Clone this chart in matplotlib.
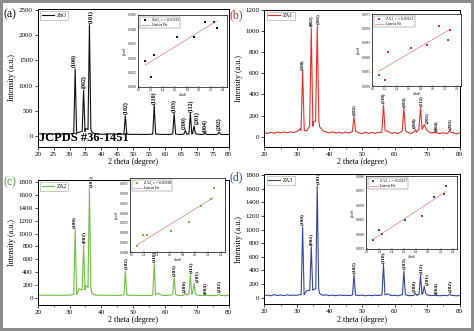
import numpy as np
import matplotlib
matplotlib.use("Agg")
import matplotlib.pyplot as plt
from matplotlib.patches import Rectangle

plt.rcParams['font.family'] = ['Liberation Serif', 'DejaVu Serif']
plt.rcParams['mathtext.fontset'] = 'stix'

W, H = 474, 331

# ---- XRD data ----
two_theta = [31.77, 34.42, 36.25, 47.54, 56.60, 62.86, 66.38, 67.96, 69.10, 72.56, 76.95]
hkl = ['(100)', '(002)', '(101)', '(102)', '(110)', '(103)', '(200)', '(112)', '(201)', '(004)', '(202)']
bg_tt = list(range(20, 81))

zno_bg = [46, 40, 44, 38, 41, 36, 39, 35, 38, 36, 42, 50, 60, 75, 90, 150, 120, 75, 45, 38,
          36, 35, 38, 45, 33, 32, 34, 38, 40, 33, 32, 34, 31, 32, 31, 33, 38, 42, 35, 31,
          32, 30, 36, 45, 33, 31, 38, 40, 45, 55, 38, 31, 32, 34, 30, 31, 30, 40, 32, 30, 31]
zno_peak = [1330, 910, 2210, 400, 610, 450, 110, 450, 200, 55, 80]
zno_foot = [55, 90, 130, 38, 40, 42, 38, 42, 48, 32, 35]

za1_bg = [38, 30, 42, 33, 45, 36, 44, 38, 46, 40, 48, 75, 70, 55, 100, 140, 150, 95, 55, 44,
          36, 45, 34, 42, 33, 44, 36, 48, 50, 38, 30, 42, 32, 40, 30, 41, 40, 55, 50, 32,
          40, 30, 45, 55, 42, 30, 40, 55, 70, 80, 60, 35, 42, 35, 30, 38, 28, 38, 38, 26, 35]
za1_peak = [620, 1030, 1050, 190, 300, 270, 65, 275, 115, 42, 60]
za1_foot = [60, 100, 150, 50, 55, 55, 42, 70, 80, 35, 38]

za2_bg = [38, 42, 36, 40, 37, 41, 35, 39, 36, 40, 38, 48, 50, 140, 120, 190, 160, 70, 42, 38,
          40, 36, 39, 35, 38, 34, 37, 45, 42, 35, 38, 34, 37, 33, 36, 34, 40, 45, 70, 36,
          34, 37, 42, 50, 38, 33, 40, 45, 55, 65, 45, 34, 36, 35, 33, 35, 32, 36, 34, 32, 33]
za2_peak = [1060, 820, 1700, 415, 530, 310, 70, 355, 225, 32, 55]
za2_foot = [50, 120, 160, 45, 45, 50, 40, 55, 65, 35, 36]

za3_bg = [30, 38, 28, 45, 32, 40, 30, 42, 33, 38, 35, 45, 45, 100, 110, 120, 130, 60, 35, 42,
          30, 38, 28, 40, 32, 36, 30, 40, 42, 30, 38, 28, 36, 30, 38, 32, 40, 42, 55, 30,
          36, 28, 40, 45, 32, 30, 35, 40, 50, 60, 42, 30, 34, 32, 28, 34, 30, 34, 32, 28, 30]
za3_peak = [1040, 750, 1640, 340, 490, 390, 64, 325, 165, 32, 52]
za3_foot = [45, 110, 130, 40, 42, 45, 35, 50, 60, 32, 34]

# ---- Williamson-Hall insets ----
four_sin = [1.096, 1.190, 1.247, 1.625, 1.905, 2.100, 2.250, 2.290]
wh_zno = [0.00292, 0.00236, 0.00310, 0.00374, 0.00374, 0.00425, 0.00424, 0.00405]
wh_za1 = [0.00539, 0.00520, 0.00617, 0.00633, 0.00643, 0.00708, 0.00661, 0.00694]
wh_za2 = [0.00432, 0.00485, 0.00485, 0.00509, 0.00554, 0.00634, 0.00673, 0.00728]
wh_za3 = [0.00580, 0.00614, 0.00603, 0.00648, 0.00663, 0.00727, 0.00740, 0.00766]
eps_txt = ['ZnO, ε = 0.00132', 'ZA1, ε = 0.00122', 'ZA2, ε = 0.00198', 'ZA3, ε = 0.00257']


def trace(bg, peak, foot, hw):
    pts = [(x, y) for x, y in zip(bg_tt, bg) if all(abs(x - p) > hw for p in two_theta)]
    for p, h, f in zip(two_theta, peak, foot):
        pts += [(p - hw, f), (p, h), (p + hw, f)]
    pts.sort()
    return [q[0] for q in pts], [q[1] for q in pts]


def box(l, t, r, b):
    return [l / W, 1 - b / H, (r - l) / W, (b - t) / H]


nudge = {'(100)': -0.3, '(101)': 0.3, '(200)': -0.45, '(201)': 0.8, '(110)': -0.1}

panels = [
    dict(name='ZnO', bg=zno_bg, pk=zno_peak, ft=zno_foot, hw=0.45, col='#111111', lab='(a)', lcol='#111111',
         ax=(37.7, 9, 228.7, 147), ylim=(-218, 2520), yt=range(0, 2501, 500), xt=range(20, 81, 5),
         ins=(138, 15, 227.5, 87), wh=wh_zno, ylw=(0.0020, 0.0045), ytw=np.arange(0.0020, 0.00451, 0.0005),
         mcol='#111111', lxy=(3, 14), hs=4.2),
    dict(name='ZA1', bg=za1_bg, pk=za1_peak, ft=za1_foot, hw=0.5, col='#e8302a', lab='(b)', lcol='#d4262b',
         ax=(264.3, 9.5, 459.7, 146.7), ylim=(-95, 1205), yt=range(0, 1201, 200), xt=range(20, 81, 10),
         ins=(372, 14, 461, 86), wh=wh_za1, ylw=(0.0050, 0.0075), ytw=np.arange(0.0050, 0.00751, 0.0005),
         mcol='#e8302a', lxy=(229, 15), hs=3.5),
    dict(name='ZA2', bg=za2_bg, pk=za2_peak, ft=za2_foot, hw=0.45, col='#6fbf45', lab='(c)', lcol='#3f9a35',
         ax=(37.7, 180, 228.7, 305), ylim=(-114, 1836), yt=range(0, 1801, 200), xt=range(20, 81, 10),
         ins=(130, 178, 225, 252), wh=wh_za2, ylw=(0.0040, 0.0078), ytw=np.arange(0.0040, 0.00751, 0.0005),
         mcol='#6fbf45', lxy=(4, 182), hs=3.9),
    dict(name='ZA3', bg=za3_bg, pk=za3_peak, ft=za3_foot, hw=0.45, col='#34479a', lab='(d)', lcol='#34479a',
         ax=(264.3, 174, 459.7, 304.3), ylim=(-97, 1815), yt=range(0, 1801, 200), xt=range(20, 81, 10),
         ins=(366, 176, 457, 249), wh=wh_za3, ylw=(0.0055, 0.0080), ytw=np.arange(0.0055, 0.00801, 0.0005),
         mcol='#34479a', lxy=(229, 177), hs=3.9),
]

fig = plt.figure(figsize=(W / 100, H / 100), dpi=100)

for i, P in enumerate(panels):
    ax = fig.add_axes(box(*P['ax']))
    x, y = trace(P['bg'], P['pk'], P['ft'], P['hw'])
    ax.plot(x, y, color=P['col'], lw=0.8, label=P['name'])
    ax.set_xlim(20, 80)
    ax.set_ylim(*P['ylim'])
    ax.set_xticks(list(P['xt']))
    ax.set_yticks(list(P['yt']))
    ax.set_xticks(range(25, 80, 10) if len(P['xt']) < 10 else [], minor=True)
    ax.tick_params(labelsize=5, length=2, width=0.5, pad=1.5, direction='out')
    ax.tick_params(which='minor', length=1.2, width=0.4)
    for s in ax.spines.values():
        s.set_linewidth(0.7)
    ax.set_xlabel('2 theta (degree)', fontsize=5.8, labelpad=1)
    ax.set_ylabel('Intensity (a.u.)', fontsize=5.8, labelpad=2)
    for p, h, t in zip(two_theta, P['pk'], hkl):
        ax.annotate(t, (p + nudge.get(t, 0), h), xytext=(0, 1.2), textcoords='offset points',
                    rotation=90, ha='center', va='bottom', fontsize=P['hs'], fontweight='bold')
    leg = ax.legend(loc='upper left', fontsize=4, handlelength=2.2, frameon=True, fancybox=False,
                    borderpad=0.3, borderaxespad=0.4, handletextpad=0.5)
    leg.get_frame().set_linewidth(0.4)
    leg.get_frame().set_edgecolor('#888888')
    if i == 0:
        ax.text(0.007, 0.02, 'JCPDS #36-1451', transform=ax.transAxes, fontsize=9,
                fontweight='bold', va='bottom', ha='left')
    fig.text(P['lxy'][0] / W, 1 - P['lxy'][1] / H, P['lab'], color=P['lcol'], fontsize=8.5,
             va='center', ha='left')

    # inset: Williamson-Hall plot
    ia = fig.add_axes(box(*P['ins']))
    ia.plot(four_sin, P['wh'], 's', color=P['mcol'], ms=1.8, mew=0, label=eps_txt[i])
    k, b0 = np.polyfit(four_sin, P['wh'], 1)
    xf = np.array([four_sin[0], four_sin[-1]])
    ia.plot(xf, k * xf + b0, color='#e46c6c', lw=0.45, label='Linear Fit')
    ia.set_xlim(0.98, 2.47)
    ia.set_ylim(*P['ylw'])
    ia.set_xticks(np.arange(1.0, 2.41, 0.2))
    ia.set_yticks(P['ytw'])
    ia.set_xticklabels([f'{v:.1f}' for v in np.arange(1.0, 2.41, 0.2)])
    ia.set_yticklabels([f'{v:.4f}' for v in P['ytw']])
    ia.tick_params(labelsize=2.3, length=1, width=0.3, pad=0.6, direction='in')
    for s in ia.spines.values():
        s.set_linewidth(0.5)
    ia.set_xlabel('4sinθ', fontsize=2.5, labelpad=0.8)
    ia.set_ylabel('βcosθ', fontsize=2.5, labelpad=1)
    il = ia.legend(loc='upper left', fontsize=2.8, frameon=True, fancybox=False, borderpad=0.3,
                   handlelength=2.2, labelspacing=0.2, borderaxespad=0.5, handletextpad=0.6)
    il.get_frame().set_linewidth(0.3)
    il.get_frame().set_edgecolor('#333333')

fig.patches.append(Rectangle((0, 0), 1, 1, transform=fig.transFigure, fill=False,
                             edgecolor='#8c8c8c', lw=4.3, zorder=10))

fig.savefig('out.png', dpi=100)
